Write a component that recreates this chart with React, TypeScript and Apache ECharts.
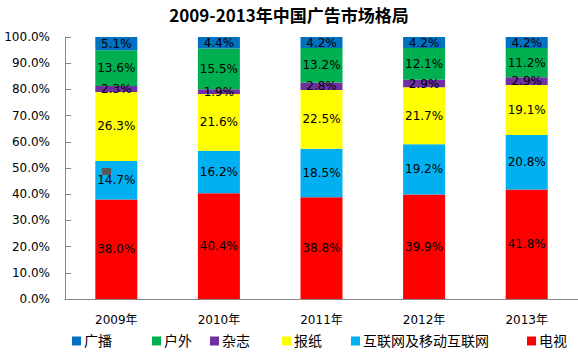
import React, { useEffect, useRef } from "react";
import * as echarts from "echarts";

const categories = ["2009年", "2010年", "2011年", "2012年", "2013年"];
const seriesNames = ["电视", "互联网及移动互联网", "报纸", "杂志", "户外", "广播"];
const tvValues = [38.0, 40.4, 38.8, 39.9, 41.8];
const internetValues = [14.7, 16.2, 18.5, 19.2, 20.8];
const newspaperValues = [26.3, 21.6, 22.5, 21.7, 19.1];
const magazineValues = [2.3, 1.9, 2.8, 2.9, 2.9];
const outdoorValues = [13.6, 15.5, 13.2, 12.1, 11.2];
const radioValues = [5.1, 4.4, 4.2, 4.2, 4.2];
const seriesColors = ["#FF0000", "#00B0F0", "#FFFF00", "#7030A0", "#00B050", "#0070C0"];
const legendOrder = ["广播", "户外", "杂志", "报纸", "互联网及移动互联网", "电视"];
const legendLeft = [67, 147, 205, 277, 346, 522];

export default function App() {
  const ref = useRef<HTMLDivElement>(null);
  useEffect(() => {
    if (!ref.current) return;
    const chart = echarts.init(ref.current, null, { renderer: "svg" });
    const values = [tvValues, internetValues, newspaperValues, magazineValues, outdoorValues, radioValues];
    const font = "DejaVu Sans, Noto Sans CJK SC, sans-serif";
    chart.setOption({
      animation: false,
      backgroundColor: "#ffffff",
      title: {
        text: "2009-2013年中国广告市场格局",
        left: "center",
        top: 1,
        textStyle: { fontSize: 17, fontWeight: "bold", color: "#000", fontFamily: "Noto Sans CJK SC, sans-serif" },
      },
      legend: legendOrder.map((name, i) => ({
        data: [name],
        left: legendLeft[i],
        top: 329,
        icon: "rect",
        itemWidth: 9,
        itemHeight: 9,
        textStyle: { fontSize: 14, color: "#000", fontFamily: font, padding: [0, 0, 0, -2] },
        selectedMode: false,
      })),
      graphic: [
        { type: "rect", left: 102, top: 168, shape: { width: 9, height: 7 }, style: { fill: "#595959" }, z: 100 },
      ],
      grid: { left: 65, top: 37, width: 522, height: 262, containLabel: false },
      xAxis: {
        type: "category",
        data: categories,
        axisLine: { lineStyle: { color: "#868686" } },
        axisTick: { inside: true, length: 5, lineStyle: { color: "#868686" } },
        axisLabel: { margin: 15, fontSize: 12, color: "#000", fontFamily: font },
      },
      yAxis: {
        type: "value",
        min: 0,
        max: 100,
        interval: 10,
        axisLine: { show: true, lineStyle: { color: "#868686" } },
        axisTick: { show: true, inside: true, length: 6, lineStyle: { color: "#868686" } },
        splitLine: { show: false },
        axisLabel: {
          margin: 15,
          fontSize: 12,
          color: "#000",
          fontFamily: font,
          formatter: (v: number) => v.toFixed(1) + "%",
        },
      },
      series: seriesNames.map((name, i) => ({
        name,
        type: "bar",
        stack: "total",
        barWidth: 42,
        data: values[i],
        itemStyle: { color: seriesColors[i] },
        label: {
          show: true,
          position: "inside",
          fontSize: 12,
          color: "#000",
          fontFamily: font,
          formatter: (p: any) => Number(p.value).toFixed(1) + "%",
        },
      })),
    });
    return () => chart.dispose();
  }, []);
  return <div ref={ref} style={{ position: "fixed", left: 0, top: 0, width: 578, height: 353 }} />;
}
